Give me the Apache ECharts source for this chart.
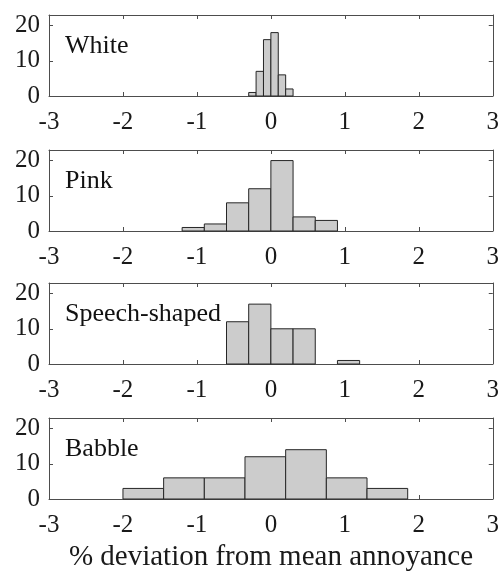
<html>
    <head>
        <meta charset="utf-8">
        <script src="https://cdn.jsdelivr.net/npm/echarts@6/dist/echarts.min.js"></script>
        <style>
            html, body { margin: 0; padding: 0; background: #fff; }
            #main { width: 502px; height: 571px; }
        </style>
    </head>
    <body>
        <div id="main"></div>
        <script>

        // histogram data: bin edges + counts per panel
        var panelNames = ['White', 'Pink', 'Speech-shaped', 'Babble'];

        var whiteEdges = [-0.3, -0.2, -0.1, 0, 0.1, 0.2, 0.3];
        var whiteCounts = [1, 7, 16, 18, 6, 2];

        var pinkEdges = [-1.2, -0.9, -0.6, -0.3, 0, 0.3, 0.6, 0.9];
        var pinkCounts = [1, 2, 8, 12, 20, 4, 3];

        var speechEdges = [-0.6, -0.3, 0, 0.3, 0.6, 0.9, 1.2];
        var speechCounts = [12, 17, 10, 10, 0, 1];

        var babbleEdges = [-2, -1.45, -0.9, -0.35, 0.2, 0.75, 1.3, 1.85];
        var babbleCounts = [3, 6, 6, 12, 14, 6, 3];

        var xLabel = '% deviation from mean annoyance';

        var allEdges = [whiteEdges, pinkEdges, speechEdges, babbleEdges];
        var allCounts = [whiteCounts, pinkCounts, speechCounts, babbleCounts];

        var FONT = '"Liberation Serif", "Times New Roman", serif';
        var AXIS_COLOR = '#4d4d4d';
        var TEXT_COLOR = '#1a1a1a';

        var gridTops = [15, 150, 283, 418];
        var gridHeight = 81;

        var myChart = echarts.init(document.getElementById('main'));

        function binData(edges, counts) {
            var out = [];
            for (var i = 0; i < counts.length; i++) {
                out.push([edges[i], edges[i + 1], counts[i]]);
            }
            return out;
        }

        function renderBin(params, api) {
            var h = api.value(2);
            if (!h) {
                return;
            }
            var p0 = api.coord([api.value(0), h]);
            var p1 = api.coord([api.value(1), 0]);
            return {
                type: 'rect',
                shape: {
                    x: p0[0],
                    y: p0[1],
                    width: p1[0] - p0[0],
                    height: p1[1] - p0[1]
                },
                style: {
                    fill: '#cccccc',
                    stroke: '#262626',
                    lineWidth: 1
                }
            };
        }

        var grid = [], xAxis = [], yAxis = [], series = [], title = [];

        for (var i = 0; i < 4; i++) {
            grid.push({
                left: 49,
                right: 9,
                top: gridTops[i],
                height: gridHeight
            });

            // bottom axis with labels, top axis only for the inward ticks
            xAxis.push({
                type: 'value',
                gridIndex: i,
                position: 'bottom',
                min: -3,
                max: 3,
                interval: 1,
                splitLine: { show: false },
                axisLine: { onZero: false, lineStyle: { color: AXIS_COLOR, width: 1 } },
                axisTick: { inside: true, length: 4, lineStyle: { color: AXIS_COLOR } },
                axisLabel: {
                    margin: 14,
                    color: TEXT_COLOR,
                    fontFamily: FONT,
                    fontSize: 25
                }
            });
            xAxis.push({
                type: 'value',
                gridIndex: i,
                position: 'top',
                min: -3,
                max: 3,
                interval: 1,
                splitLine: { show: false },
                axisLine: { onZero: false, lineStyle: { color: AXIS_COLOR, width: 1 } },
                axisTick: { inside: true, length: 4, lineStyle: { color: AXIS_COLOR } },
                axisLabel: { show: false }
            });

            yAxis.push({
                type: 'value',
                gridIndex: i,
                position: 'left',
                min: 0,
                max: 23,
                interval: 10,
                splitLine: { show: false },
                axisLine: { show: true, onZero: false, lineStyle: { color: AXIS_COLOR, width: 1 } },
                axisTick: { show: true, inside: true, length: 4, lineStyle: { color: AXIS_COLOR } },
                axisLabel: {
                    margin: 9,
                    color: TEXT_COLOR,
                    fontFamily: FONT,
                    fontSize: 25,
                    formatter: function (v) {
                        return v % 10 === 0 ? String(v) : '';
                    }
                }
            });
            yAxis.push({
                type: 'value',
                gridIndex: i,
                position: 'right',
                min: 0,
                max: 23,
                interval: 10,
                splitLine: { show: false },
                axisLine: { show: true, onZero: false, lineStyle: { color: AXIS_COLOR, width: 1 } },
                axisTick: { show: true, inside: true, length: 4, lineStyle: { color: AXIS_COLOR } },
                axisLabel: { show: false }
            });

            series.push({
                type: 'custom',
                xAxisIndex: i * 2,
                yAxisIndex: i * 2,
                renderItem: renderBin,
                encode: { x: [0, 1], y: 2 },
                data: binData(allEdges[i], allCounts[i]),
                silent: true
            });

            title.push({
                text: panelNames[i],
                left: 60,
                top: gridTops[i] + 13,
                padding: 5,
                textStyle: {
                    color: '#111',
                    fontFamily: FONT,
                    fontSize: 26,
                    fontWeight: 'normal'
                }
            });
        }

        var option = {
            animation: false,
            backgroundColor: '#fff',
            title: title,
            grid: grid,
            xAxis: xAxis,
            yAxis: yAxis,
            series: series,
            graphic: [{
                type: 'text',
                x: 271,
                y: 543,
                style: {
                    text: xLabel,
                    align: 'center',
                    verticalAlign: 'top',
                    fill: TEXT_COLOR,
                    font: '29px ' + FONT
                }
            }]
        };

        myChart.setOption(option);

        </script>
    </body>
</html>
